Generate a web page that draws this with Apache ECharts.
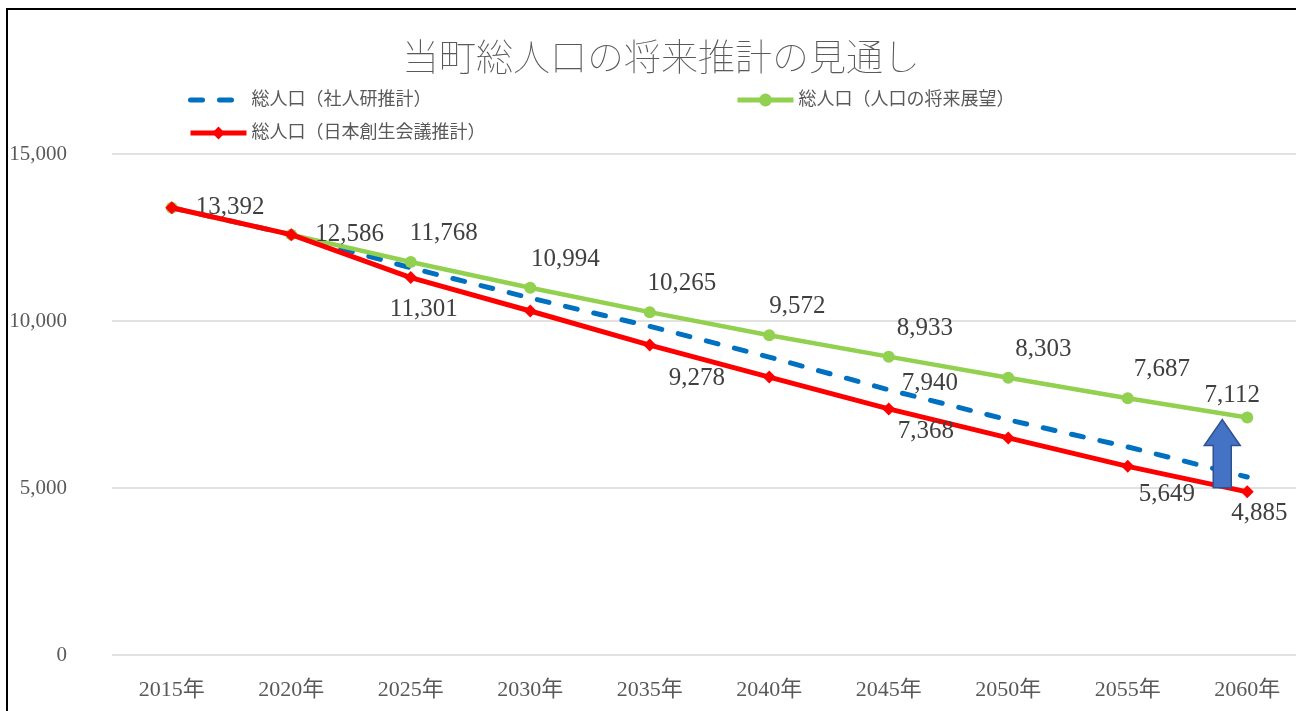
<!DOCTYPE html>
<html lang="ja">
<head>
  <meta charset="UTF-8">
  <title>当町総人口の将来推計の見通し</title>
  <script src="https://cdn.jsdelivr.net/npm/echarts@6/dist/echarts.min.js"></script>
  <style>
    html, body { margin: 0; padding: 0; background: #fff; }
    #chart { width: 1296px; height: 711px; }
  </style>
</head>
<body>
  <div id="chart"></div>
  <script>
    const years = ['2015年', '2020年', '2025年', '2030年', '2035年', '2040年', '2045年', '2050年', '2055年', '2060年'];
    const ipss = [13392, 12586, 11590, 10690, 9840, 8920, 7940, 7040, 6230, 5330];        // 社人研推計
    const outlook = [13392, 12586, 11768, 10994, 10265, 9572, 8933, 8303, 7687, 7112];   // 人口の将来展望
    const jpc = [13392, 12586, 11301, 10300, 9278, 8320, 7368, 6500, 5649, 4885];        // 日本創生会議推計
    const yTicks = [0, 5000, 10000, 15000];
    const arrowData = [[9, 4885, 7112]];

    const font = "'Liberation Serif', 'Noto Sans CJK JP', serif";
    const labelColor = '#404040';

    // which labels are drawn and where they sit relative to the point
    const outlookLabels = {
      0: { position: 'right', offset: [13, 0] },
      1: { position: 'right', offset: [13, 0] },
      2: { position: 'top', offset: [33, -5] },
      3: { position: 'top', offset: [35, -5] },
      4: { position: 'top', offset: [32, -5] },
      5: { position: 'top', offset: [28, -5] },
      6: { position: 'top', offset: [36, -5] },
      7: { position: 'top', offset: [35, -5] },
      8: { position: 'top', offset: [34, -5] },
      9: { position: 'top', offset: [-15, 1] }
    };
    const jpcLabels = {
      2: { position: 'bottom', offset: [13, 8] },
      4: { position: 'bottom', offset: [47, 9] },
      6: { position: 'bottom', offset: [37, -1] },
      8: { position: 'bottom', offset: [39, 4] },
      9: { position: 'bottom', offset: [12, -2] }
    };
    const ipssLabels = {
      6: { position: 'right', offset: [8, -6] }
    };

    function withLabels(values, labels) {
      return values.map(function (v, i) {
        const l = labels[i];
        if (!l) return { value: v, label: { show: false } };
        return { value: v, label: { show: true, position: l.position, offset: l.offset } };
      });
    }

    const labelStyle = {
      show: false,
      fontFamily: font,
      fontSize: 25,
      color: labelColor,
      formatter: function (p) { return p.value.toLocaleString('en-US'); }
    };

    const legendText = { fontFamily: font, fontSize: 18, color: '#595959' };

    const chart = echarts.init(document.getElementById('chart'));
    chart.setOption({
      backgroundColor: '#fff',
      animation: false,
      textStyle: { fontFamily: font },
      title: {
        text: '当町総人口の将来推計の見通し',
        left: 397,
        top: 38,
        textStyle: { fontFamily: font, fontSize: 37, fontWeight: 'lighter', color: '#595959' }
      },
      legend: [
        {
          data: [{ name: '総人口（社人研推計）', itemStyle: { opacity: 0 } }],
          left: 183, top: 86,
          itemWidth: 56, itemHeight: 16,
          lineStyle: { width: 5 },
          textStyle: legendText
        },
        {
          data: ['総人口（人口の将来展望）'],
          left: 730, top: 86,
          itemWidth: 56, itemHeight: 16,
          lineStyle: { width: 5 },
          textStyle: legendText
        },
        {
          data: ['総人口（日本創生会議推計）'],
          left: 183, top: 119,
          itemWidth: 56, itemHeight: 16,
          lineStyle: { width: 5 },
          textStyle: legendText
        }
      ],
      grid: { left: 112, width: 1195, top: 154, bottom: 56, outerBoundsMode: 'none' },
      xAxis: {
        type: 'category',
        data: years,
        boundaryGap: true,
        axisLine: { show: false },
        axisTick: { show: false },
        axisLabel: { margin: 24, fontFamily: font, fontSize: 22, color: '#595959' }
      },
      yAxis: {
        type: 'value',
        min: yTicks[0],
        max: yTicks[yTicks.length - 1],
        interval: yTicks[1] - yTicks[0],
        axisLine: { show: false },
        axisTick: { show: false },
        splitLine: { lineStyle: { color: '#d9d9d9', width: 1.5 } },
        axisLabel: {
          margin: 45,
          fontFamily: font,
          fontSize: 21,
          color: '#595959',
          formatter: function (v) { return v.toLocaleString('en-US'); }
        }
      },
      graphic: [{
        type: 'rect',
        shape: { x: 7, y: 9, width: 1400, height: 800 },
        style: { fill: 'none', stroke: '#000', lineWidth: 2 },
        silent: true
      }],
      series: [
        {
          name: '総人口（社人研推計）',
          type: 'line',
          data: withLabels(ipss, ipssLabels),
          symbol: 'circle',
          symbolSize: 0,
          showSymbol: true,
          itemStyle: { color: '#0070C0' },
          lineStyle: { color: '#0070C0', width: 5, type: [12, 17], cap: 'round' },
          label: labelStyle,
          z: 2
        },
        {
          name: '総人口（人口の将来展望）',
          type: 'line',
          data: withLabels(outlook, outlookLabels),
          symbol: 'circle',
          symbolSize: 12,
          itemStyle: { color: '#92D050' },
          lineStyle: { color: '#92D050', width: 4.5 },
          label: labelStyle,
          z: 3
        },
        {
          name: '総人口（日本創生会議推計）',
          type: 'line',
          data: withLabels(jpc, jpcLabels),
          symbol: 'diamond',
          symbolSize: 13,
          itemStyle: { color: '#FF0000' },
          lineStyle: { color: '#FF0000', width: 5 },
          label: labelStyle,
          z: 4
        },
        {
          // block arrow from the lower to the upper projection at 2060
          type: 'custom',
          data: arrowData,
          encode: { x: 0, y: [1, 2] },
          z: 10,
          silent: true,
          renderItem: function (params, api) {
            const base = api.coord([api.value(0), api.value(1)]);
            const tip = api.coord([api.value(0), api.value(2)]);
            const x = base[0] - 25;
            const y0 = base[1] - 4;
            const y1 = tip[1] + 2;
            const sw = 9, hw = 18, hh = 26;
            return {
              type: 'polygon',
              shape: {
                points: [
                  [x - sw, y0], [x - sw, y1 + hh], [x - hw, y1 + hh], [x, y1],
                  [x + hw, y1 + hh], [x + sw, y1 + hh], [x + sw, y0]
                ]
              },
              style: { fill: '#4472C4', stroke: '#2F528F', lineWidth: 1.5 }
            };
          }
        }
      ]
    });
  </script>
</body>
</html>
